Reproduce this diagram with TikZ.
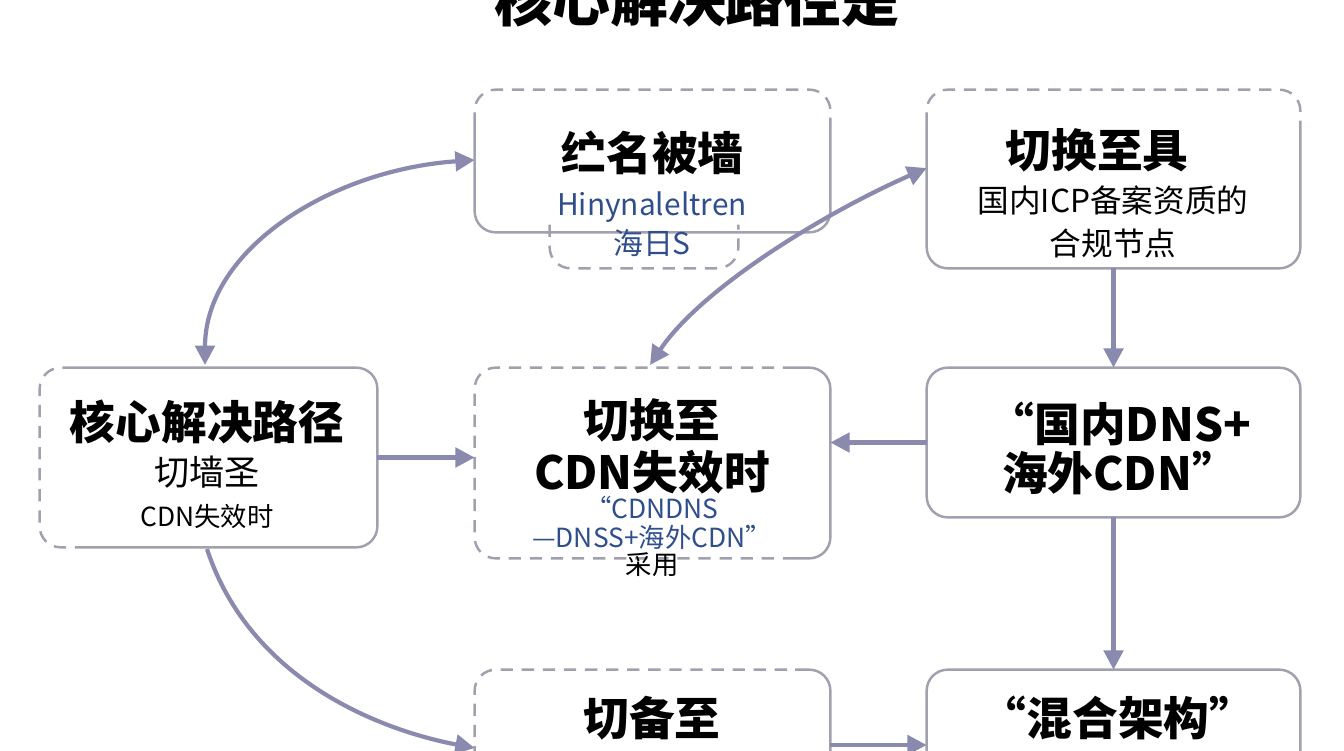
\documentclass[tikz,border=0pt]{standalone}
\usepackage{fontspec}
\setmainfont{Noto Sans CJK SC}
\usetikzlibrary{fit,arrows.meta}
\definecolor{arr}{HTML}{8A8AAE}
\definecolor{bd}{HTML}{A0A0AE}
\definecolor{bl}{HTML}{2F4E8C}
\tikzset{
  box/.style={inner sep=0,draw=none},
  sol/.style={draw=bd,line width=1.4pt,rounded corners=12pt},
  dsh/.style={sol,dash pattern=on 7pt off 5pt},
  con/.style={draw=arr,line width=2.4pt,-{Triangle[length=11pt,width=11pt]}},
  bcon/.style={con,{Triangle[length=11pt,width=11pt]}-{Triangle[length=11pt,width=11pt]}},
  hd/.style={font=\fontsize{26}{28}\selectfont\bfseries},
  sub/.style={font=\fontsize{15}{17}\selectfont,text=bl},
  nm/.style={font=\fontsize{18}{20}\selectfont},
}
\begin{document}
\begin{tikzpicture}[x=0.02cm,y=-0.02cm]
\useasboundingbox[fill=white] (0,0) rectangle (1344,750);
\node[font=\fontsize{33}{35}\selectfont\bfseries] (title) at (697,-1) {核心解决路径是};
% boxes
\node[box,fit={(475,90)(830,232)}] (tm) {};
\node[box,fit={(550,225)(738,268)}] (tms) {};
\node[box,fit={(927,90)(1300,268)}] (tr) {};
\node[box,fit={(40,368)(377,547)}] (lf) {};
\node[box,fit={(475,368)(830,558)}] (md) {};
\node[box,fit={(927,368)(1300,517)}] (rm) {};
\node[box,fit={(475,670)(830,800)}] (bm) {};
\node[box,fit={(927,670)(1300,800)}] (br) {};
% borders
\draw[sol] ([yshift=-20pt]tm.north west) |- (tm.south east) -- ([yshift=-20pt]tm.north east);
\draw[dsh] ([yshift=-20pt]tm.north west) |- (tm.north east) -- ([yshift=-20pt]tm.north east);
\draw[dsh] (tms.north west) |- (tms.south east) -- (tms.north east);
\draw[sol] ([yshift=-20pt]tr.north west) |- (tr.south east) -- ([yshift=-20pt]tr.north east);
\draw[dsh] ([yshift=-20pt]tr.north west) |- (tr.north east) -- ([yshift=-20pt]tr.north east);
\draw[sol] ([xshift=20pt]lf.north west) -| (lf.south east) -- ([xshift=20pt]lf.south west);
\draw[dsh] ([xshift=20pt]lf.north west) -| (lf.south west) -- ([xshift=20pt]lf.south west);
\draw[dsh] ([xshift=-20pt]md.north east) -| (md.south west) -- ([xshift=-20pt]md.south east);
\draw[sol] ([xshift=-20pt]md.north east) -| (md.south east) -- ([xshift=-20pt]md.south east);
\draw[sol] (rm.north west) rectangle (rm.south east);
\draw[dsh] (bm.south west) |- ([xshift=-20pt]bm.north east);
\draw[sol] ([xshift=-20pt]bm.north east) -| (bm.south east);
\draw[sol] (br.north west) rectangle (br.south east);
% texts
\node[hd] (t1) at (652,153) {纻名被墙};
\node[sub,font=\fontsize{17}{19}\selectfont] (t2) at (652,207) {Hinynaleltren};
\node[sub,font=\fontsize{17}{19}\selectfont] (t3) at (652,243) {海日S};
\node[hd] (t4) at (1097,150) {切换至具};
\node[nm] (t5) at (1113,200) {国内ICP备案资质的};
\node[nm] (t6) at (1113,243) {合规节点};
\node[hd] (t7) at (207,422) {核心解决路径};
\node[nm,font=\fontsize{20}{22}\selectfont] (t8) at (207,472) {切墙圣};
\node[font=\fontsize{15}{17}\selectfont] (t9) at (207,517) {CDN失效时};
\node[hd] (t10) at (652,420) {切换至};
\node[hd] (t11) at (652,472) {CDN失效时};
\node[sub] (t12) at (652,508) {“CDNDNS};
\node[sub] (t13) at (652,537) {—DNSS+海外CDN”};
\node[font=\fontsize{15}{17}\selectfont] (t14) at (652,565) {采用};
\node[hd] (t15) at (1120,424) {“国内DNS+};
\node[hd] (t16) at (1120,473) {海外CDN”};
\node[hd] (t17) at (652,718) {切备至};
\node[hd] (t18) at (1118,718) {“混合架构”};
% connectors
\coordinate (lft) at (205,365);
\coordinate (mdt) at (650,365);
\coordinate (lfb) at (207,549);
\draw[bcon] (lft) .. controls (205,250) and (330,170) .. (tm.west |- 0,160);
\draw[bcon] (mdt) .. controls (700,290) and (820,215) .. (tr.west |- 0,168);
\draw[con] (tr.south) -- (rm.north);
\draw[con] (rm.west) -- (md.east |- rm.west);
\draw[con] (lf.east) -- (md.west |- lf.east);
\draw[con] (rm.south) -- (br.north);
\draw[con] (lfb) .. controls (250,680) and (380,730) .. (bm.west |- 0,748);
\draw[con] (bm.east |- 0,745) -- (br.west |- 0,745);
\end{tikzpicture}
\end{document}
